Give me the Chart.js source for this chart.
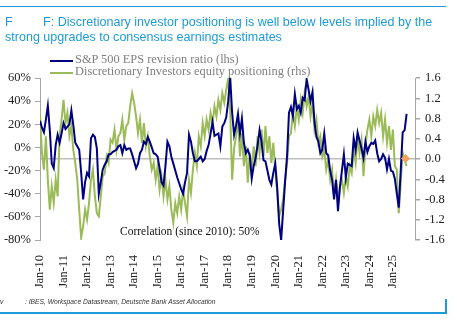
<!DOCTYPE html>
<html>
<head>
<meta charset="utf-8">
<script src="https://cdn.jsdelivr.net/npm/chart.js@4/dist/chart.umd.min.js"></script>
<style>
  body { margin: 0; background: #fff; }
  #wrap { position: relative; width: 457px; height: 321px; overflow: hidden; background: #fff; }
  #chart { position: absolute; left: 0; top: 0; }
  .rule { position: absolute; background: #1e9ad6; }
  .title { position: absolute; left: 5px; font-family: "Liberation Sans", Arial, sans-serif; font-size: 12.55px; color: #1e9ad6; white-space: nowrap; }
  .leg { position: absolute; left: 75px; font-family: "Liberation Serif", serif; font-size: 12.4px; color: #7f7f7f; white-space: nowrap; }
  .legline { position: absolute; left: 50px; width: 23px; height: 2px; }
  .note { position: absolute; left: 120px; top: 225px; font-family: "Liberation Serif", serif; font-size: 11.5px; color: #111; white-space: nowrap; }
  .src { position: absolute; top: 298px; font-family: "Liberation Sans", Arial, sans-serif; font-style: italic; font-size: 6.7px; color: #333; white-space: nowrap; }
</style>
</head>
<body>
<div id="wrap">
  <canvas id="chart" width="457" height="321"></canvas>
  <div class="rule" style="left:0;top:6px;width:446px;height:1px"></div>
  <div class="title" style="top:15px">F</div>
  <div class="title" style="left:43px;top:15px">F: Discretionary investor positioning is well below levels implied by the</div>
  <div class="title" style="top:30px">strong upgrades to consensus earnings estimates</div>
  <div class="legline" style="top:60px;background:#000080"></div>
  <div class="leg" style="top:52px">S&amp;P 500 EPS revision ratio (lhs)</div>
  <div class="legline" style="top:72px;background:#9bbb59"></div>
  <div class="leg" style="top:64px">Discretionary Investors equity positioning (rhs)</div>
  <div class="note">Correlation (since 2010): 50%</div>
  <div class="src" style="left:0">v</div>
  <div class="src" style="left:25px">: IBES, Workspace Datastream, Deutsche Bank Asset Allocation</div>
  <div class="rule" style="left:0;top:312px;width:447px;height:2px"></div>
  <div class="rule" style="left:445px;top:299px;width:2px;height:15px"></div>
</div>
<script>
// monthly values, first point = Jan 2010
const startYear = 2010

// S&P 500 EPS revision ratio, % (lhs)
const epsRevision = [
  23, 17, 13, 24, 36, 15, -14, -18, 2, 11, 4, 12,
  21, 16, 18, 20, 32, 19, 4, 1, -2, -22, -45, -30,
  -22, -25, 8, 11, 9, -1, -40, -30, -19, -15, -12, -6,
  -6, -4, -3, -2, 1, 2, -5, 2, -2, -1, -1, -6,
  -12, -18, -14, -5, -2, 5, 3, 9, 5, 0, -5, -6,
  -8, -18, -30, -33, -16, 5, 1, -8, -14, -20, -26, -31,
  -36, -40, -30, -22, 11, 5, -5, -12, -12, -10, -8, -12,
  -10, -3, 2, 12, 22, 10, 11, 12, 1, 18, 21, 26,
  40, 61, 30, 11, 19, 29, 12, 25, 4, -5, -2, -7,
  -27, -16, -9, 2, 15, 5, -11, -12, -20, -28, -32, -22,
  -14, -35, -66, -80, -55, -30, -8, 30, 35, 27, 46, 33,
  36, 30, 43, 41, 59, 50, 40, 48, 22, 9, 5, -5,
  -2, 12, -5, -7, -20, -28, -45, -28, -55, -34, -20, -6,
  -26, -14, -15, -16, 8, -2, 13, 6, -1, -9, 5, -4,
  1, 4, 3, 6, -5, -12, -10, -6, -9, -19, -10, -20,
  -21, -27, -40, -52, -20, 13, 15, 29
]

// Discretionary investors equity positioning, z-score (rhs)
const positioning = [
  0.9, 0.12, -0.21, 0.45, -0.41, -1.0, -0.54, -0.87, -0.41, -0.74, 0.45, 0.78,
  1.17, 0.71, 0.91, 0.45, 0.65, 0.18, -0.08, -0.41, -1.0, -1.55, -1.33, -1.0,
  -1.2, -0.87, -0.41, -0.21, -0.74, -1.07, -1.13, -0.74, -0.34, -0.28, 0.05, -0.08,
  0.38, 0.32, 0.58, 0.18, 0.45, 0.51, 0.78, 0.38, 0.65, 0.71, 1.04, 1.3,
  1.11, 0.84, 0.51, 0.78, 0.32, 0.71, 0.25, 0.45, 0.05, -0.21, -0.08, -0.41,
  -0.14, -0.61, -0.34, -0.74, -0.41, -0.8, -0.54, -1.0, -1.26, -0.87, -1.07, -0.74,
  -1.0, -0.61, -0.87, -1.13, -0.41, -0.67, -0.21, 0.12, -0.14, 0.45, 0.25, 0.71,
  0.45, 0.78, 0.58, 0.91, 0.71, 1.04, 0.84, 1.17, 0.97, 1.3, 1.11, 1.37,
  1.6, 0.97, -0.41, 0.2, 0.45, 0.78, 0.05, 0.51, -0.14, 0.25, -0.47, 0.12,
  -0.21, 0.25, -0.14, 0.45, 0.12, 0.58, 0.05, 0.65, 0.12, 0.45, -0.08, 0.32,
  -0.21, -0.67, -1.13, -1.0, -0.8, -0.41, -0.08, 0.45, 0.51, 0.91, 0.65, 1.04,
  0.78, 1.17, 0.91, 1.3, 1.04, 1.24, 0.84, 1.11, 0.58, 0.78, 0.32, 0.45,
  0.05, 0.18, -0.21, -0.01, -0.41, -0.21, -0.74, -0.41, -0.87, -0.54, -0.41, -0.67,
  -0.34, -0.54, -0.14, -0.28, 0.18, -0.08, 0.45, 0.12, 0.38, -0.34, 0.25, 0.58,
  0.78, 0.45, 0.84, 0.65, 0.97, 0.71, 0.91, 0.45, 0.78, 0.32, 0.65, 0.18,
  0.58, -0.14, -0.21, -1.07, -0.47, 0.12, -0.01, -0.14
]

// latest reading marker (orange diamond)
const latestDate = 2025.54
const latestValue = 0.01

const xTickYears = [2010, 2011, 2012, 2013, 2014, 2015, 2016, 2017, 2018, 2019, 2020, 2021, 2022, 2023, 2024, 2025]
const lhsTicks = [60, 40, 20, 0, -20, -40, -60, -80]
const rhsTicks = [1.6, 1.2, 0.8, 0.4, 0, -0.4, -0.8, -1.2, -1.6]

const toPoints = arr => arr.map((v, i) => ({ x: startYear + i / 12, y: v }))

const tickFont = { family: '"Liberation Serif", serif', size: 12.5 }
const axisGrey = '#a6a6a6'

const ctx = document.querySelector('#chart').getContext('2d')

new Chart(ctx, {
    type: 'line',
    data: {
        datasets: [
            {
                label: 'latest',
                data: [{ x: latestDate, y: latestValue }],
                yAxisID: 'y2',
                showLine: false,
                pointStyle: 'rectRot',
                pointRadius: 4,
                backgroundColor: '#f4a259',
                borderColor: '#f4a259',
                order: 0
            },
            {
                label: 'S&P 500 EPS revision ratio (lhs)',
                data: toPoints(epsRevision),
                yAxisID: 'y',
                borderColor: '#000080',
                borderWidth: 2,
                pointRadius: 0,
                tension: 0,
                order: 1
            },
            {
                label: 'Discretionary Investors equity positioning (rhs)',
                data: toPoints(positioning),
                yAxisID: 'y2',
                borderColor: '#9bbb59',
                borderWidth: 2,
                pointRadius: 0,
                tension: 0,
                order: 2
            }
        ]
    },
    options: {
        responsive: false,
        animation: false,
        events: [],
        layout: { padding: { top: 78, left: 0, right: 0, bottom: 0 } },
        plugins: { legend: { display: false }, tooltip: { enabled: false } },
        scales: {
            x: {
                type: 'linear',
                min: 2010,
                max: 2025.94,
                afterBuildTicks: scale => { scale.ticks = xTickYears.map(v => ({ value: v })) },
                afterFit: scale => { scale.height = 81 },
                ticks: {
                    minRotation: 90,
                    maxRotation: 90,
                    padding: 7,
                    autoSkip: false,
                    color: '#222',
                    font: tickFont,
                    callback: v => 'Jan-' + String(v).slice(2)
                },
                grid: { display: false },
                border: { display: false }
            },
            y: {
                position: 'left',
                min: -80,
                max: 60,
                afterBuildTicks: scale => { scale.ticks = lhsTicks.map(v => ({ value: v })) },
                afterFit: scale => { scale.width = 40 },
                ticks: { color: '#222', font: tickFont, padding: 4, callback: v => v + '%' },
                grid: { drawOnChartArea: false, tickLength: 5, tickColor: axisGrey },
                border: { color: axisGrey, width: 1 }
            },
            y2: {
                position: 'right',
                min: -1.6,
                max: 1.6,
                afterBuildTicks: scale => { scale.ticks = rhsTicks.map(v => ({ value: v })) },
                afterFit: scale => { scale.width = 42 },
                ticks: { color: '#222', font: tickFont, padding: 5, callback: v => v.toFixed(1) },
                grid: {
                    drawOnChartArea: true,
                    tickLength: 5,
                    tickColor: axisGrey,
                    color: c => (c.tick && c.tick.value === 0 ? '#bfbfbf' : 'rgba(0,0,0,0)'),
                    lineWidth: 1.5
                },
                border: { color: axisGrey, width: 1 }
            }
        }
    }
})
</script>
</body>
</html>
